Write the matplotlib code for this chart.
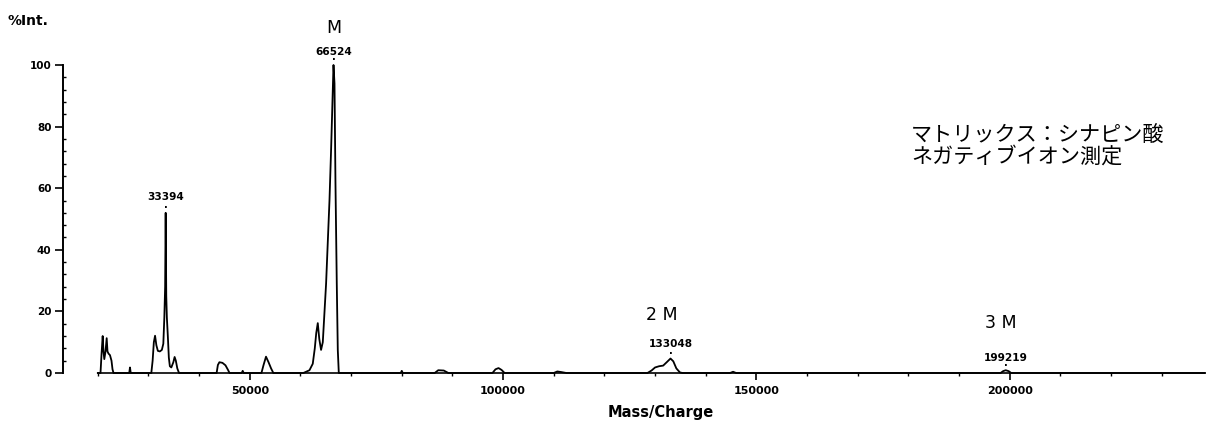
import matplotlib
matplotlib.use("Agg")
import matplotlib.pyplot as plt
from matplotlib.ticker import FixedLocator, MultipleLocator, FormatStrFormatter

# ---------------- data ----------------
mz = [20000, 20530, 20730, 20960, 21120, 21280, 21520, 21750, 21910, 22110, 22400, 22700, 22900, 23100,
      26200, 26350, 26500,
      30560, 30820, 31060, 31300, 31560, 31850, 32240, 32640, 32930, 33130, 33290, 33394, 33510, 33630,
      33820, 34020, 34220, 34510, 34910, 35160, 35400, 35690, 36030,
      43450, 43700, 44000, 44600, 45200, 45700, 46000,
      48400, 48600, 48800,
      52300, 52700, 53200, 53700, 54200, 54650,
      60570, 61780, 62430, 62830, 63120, 63420, 63720, 64070, 64410, 65060, 65730, 66050, 66240, 66524,
      66720, 66910, 67170, 67370, 67570,
      79800, 80000, 80200,
      86500, 87200, 88300, 89200,
      97900, 98500, 99100, 99700, 100300,
      110000, 110700, 111500, 112500,
      128500, 129300, 130000, 130800, 131600, 132300, 133048, 133600, 134200, 134900, 135400,
      144800, 145400, 146000,
      198200, 198700, 199219, 199800, 200300,
      238500]
intensity = [0, 0, 6, 12.0, 7, 4.5, 7, 11.3, 7, 6.3, 5.8, 4, 1.2, 0,
             0, 1.8, 0,
             0, 4, 10, 12.1, 9, 7.2, 7, 7.5, 9.5, 18, 28, 52, 25, 18,
             12, 5, 2.2, 1.8, 3.5, 5.2, 4, 1.5, 0,
             0, 2.6, 3.5, 3.3, 2.5, 1.0, 0,
             0, 0.7, 0,
             0, 2.5, 5.3, 3.5, 1.5, 0,
             0, 0.9, 3, 8, 13, 16.2, 11, 7.5, 10, 29, 56, 72.6, 83.5, 100,
             94, 62, 29, 7.5, 0,
             0, 0.7, 0,
             0, 0.9, 0.8, 0,
             0, 1.2, 1.6, 1.0, 0,
             0, 0.5, 0.3, 0,
             0, 0.8, 1.8, 2.2, 2.4, 3.5, 4.7, 3.8, 1.5, 0.2, 0,
             0, 0.4, 0,
             0, 0.6, 0.9, 0.6, 0,
             0]

peak_mz = [33394, 66524, 133048, 199219]
peak_int = [52, 100, 4.7, 0.9]
peak_labels = ["33394", "66524", "133048", "199219"]
ion_labels = ["", "M", "2 M", "3 M"]

x_major = [50000, 100000, 150000, 200000]
x_minor = [20000, 30000, 40000, 60000, 70000, 80000, 90000, 110000, 120000, 130000, 140000,
           160000, 170000, 180000, 190000, 210000, 220000, 230000]
y_major = [0, 20, 40, 60, 80, 100]

note_lines = ["マトリックス：シナピン酸", "ネガティブイオン測定"]

# ---------------- layout ----------------
W, H = 1208, 425
fig = plt.figure(figsize=(W / 100, H / 100), dpi=100)
ax = fig.add_axes([63 / W, 52 / H, (W - 63) / W, 308 / H])

ax.plot(mz, intensity, color="black", lw=1.3, clip_on=False, solid_joinstyle="round")

ax.set_xlim(13127, 239150)
ax.set_ylim(0, 100)

for s in ("top", "right"):
    ax.spines[s].set_visible(False)
ax.spines["bottom"].set_position(("data", 0))
ax.spines["bottom"].set_bounds(20000, 238500)
ax.spines["left"].set_bounds(0, 100)
ax.spines["bottom"].set_linewidth(1.2)
ax.spines["left"].set_linewidth(1.4)

ax.xaxis.set_major_locator(FixedLocator(x_major))
ax.xaxis.set_minor_locator(FixedLocator(x_minor))
ax.xaxis.set_major_formatter(FormatStrFormatter("%d"))
ax.yaxis.set_major_locator(FixedLocator(y_major))
ax.yaxis.set_minor_locator(MultipleLocator(4))

ax.tick_params(axis="x", which="major", direction="out", length=5, width=1.2, pad=4.2, labelsize=8)
ax.tick_params(axis="x", which="minor", direction="out", length=2.5, width=1.0)
ax.tick_params(axis="y", which="major", direction="out", length=6, width=1.2, pad=2.2, labelsize=7.5)
ax.tick_params(axis="y", which="minor", direction="in", length=1.8, width=1.0)
for lab in ax.get_xticklabels() + ax.get_yticklabels():
    lab.set_fontweight("bold")

# peak annotations (offsets in points)
num_dy = [11.5, 9.6, 10.8, 9.1]
ion_dx = [0, 0.5, -6.5, -3.6]
ion_dy = [0, 26.6, 31.0, 33.8]
for xm, yi, nl, il, ndy, idx, idy in zip(peak_mz, peak_int, peak_labels, ion_labels, num_dy, ion_dx, ion_dy):
    ax.annotate("·", xy=(xm, yi), xytext=(0, 3.4), textcoords="offset points",
                ha="center", va="center", fontsize=7, fontweight="bold", annotation_clip=False)
    ax.annotate(nl, xy=(xm, yi), xytext=(0, ndy), textcoords="offset points",
                ha="center", va="center", fontsize=7.6, fontweight="bold", annotation_clip=False)
    if il:
        ax.annotate(il, xy=(xm, yi), xytext=(idx, idy), textcoords="offset points",
                    ha="center", va="center", fontsize=12.5, annotation_clip=False)

fig.text(8 / W, 1 - 21 / H, "%Int.", fontsize=10, fontweight="bold", ha="left", va="center")
fig.text(661 / W, 1 - 413 / H, "Mass/Charge", fontsize=10.5, fontweight="bold", ha="center", va="center")

jp = ["Noto Sans CJK JP", "DejaVu Sans"]
fig.text(911 / W, 1 - 135 / H, note_lines[0], family=jp, fontsize=15.2, ha="left", va="center")
fig.text(911 / W, 1 - 157 / H, note_lines[1], family=jp, fontsize=15.2, ha="left", va="center")

fig.savefig("out.png", dpi=100)
